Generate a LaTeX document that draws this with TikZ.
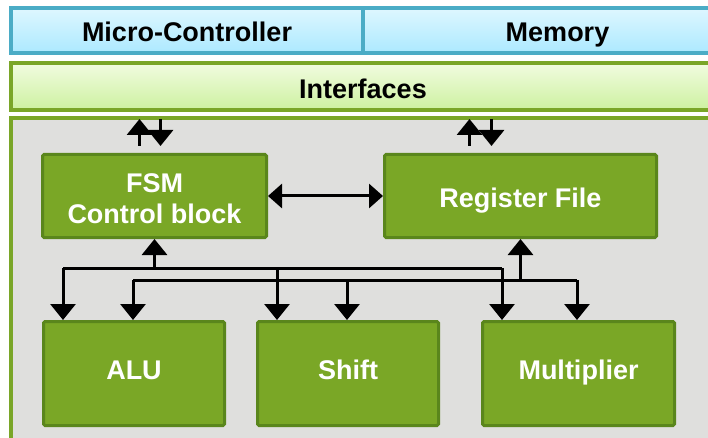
\documentclass[tikz,border=0pt]{standalone}
\usepackage{fontspec}
\setmainfont{Liberation Sans}
\usetikzlibrary{arrows.meta}

\definecolor{cyanedge}{RGB}{75,172,198}
\definecolor{cyantop}{RGB}{222,247,255}
\definecolor{cyanbot}{RGB}{172,233,255}
\definecolor{limeedge}{RGB}{122,166,40}
\definecolor{limetop}{RGB}{241,252,224}
\definecolor{limebot}{RGB}{205,241,160}
\definecolor{panelgrey}{RGB}{223,223,221}
\definecolor{unitfill}{RGB}{122,167,38}
\definecolor{unitedge}{RGB}{90,134,28}

\begin{document}
\begin{tikzpicture}[x=1pt,y=-1pt,
  labelfont/.style={font=\fontsize{27}{31}\selectfont\bfseries},
  % caps are centred in the text box; extra height lowers them, depth raises them
  capsat/.style 2 args={text height=#1, text depth=#2},
  topbar/.style={draw=cyanedge, line width=3.5pt, top color=cyantop, bottom color=cyanbot,
                 labelfont, text=black, inner sep=0pt, capsat={22.3pt}{0pt}},
  ifbar/.style={draw=limeedge, line width=3.5pt, top color=limetop, bottom color=limebot,
                labelfont, text=black, inner sep=0pt, capsat={24.3pt}{0pt}},
  panel/.style={draw=limeedge, line width=3.5pt, fill=panelgrey, inner sep=0pt},
  unit/.style={draw=unitedge, fill=unitfill, line width=3pt, rounded corners=1.5pt,
               text=white, labelfont, align=center, inner sep=0pt},
  bus/.style={draw=black, line width=3pt},
  tipend/.style={bus, -{Triangle[width=25pt,length=16pt]}},
  tipboth/.style={bus, {Triangle[width=24pt,length=14pt]}-{Triangle[width=24pt,length=14pt]}}
]
\path[use as bounding box] (0,0) rectangle (708,438);
\clip (0,0) rectangle (708,438);
\fill[white] (0,0) rectangle (708,438);

% layer bars
\node[topbar, minimum width=352pt, minimum height=45pt] (mc) at (187,30.5) {Micro-Controller};
\node[topbar, minimum width=389pt, minimum height=45pt] (mem) at (557.5,30.5) {Memory};
\node[ifbar, minimum width=704pt, minimum height=47pt] (ifc) at (363,86.5) {Interfaces};
\node[panel, minimum width=729pt, minimum height=352pt] (core) at (375.5,294) {};

% functional units (two-line label: the box height counts from the last baseline)
\node[unit, capsat={55.3pt}{0pt}, minimum width=224pt, minimum height=83pt] (fsm) at (154.5,196) {FSM\\Control block};
\node[unit, capsat={23.3pt}{0pt}, minimum width=272pt, minimum height=83pt] (reg) at (520.5,196) {Register File};
\node[unit, capsat={19.3pt}{7pt}, minimum width=181pt, minimum height=104pt] (alu) at (134,373.5) {ALU};
\node[unit, capsat={19.3pt}{7pt}, minimum width=181pt, minimum height=104pt] (shift) at (348,373.5) {Shift};
\node[unit, capsat={19.3pt}{7pt}, minimum width=192pt, minimum height=104pt] (mult) at (578.5,373.5) {Multiplier};

% ports to the interface layer
\coordinate (p1up) at (139.5,146);  \coordinate (p1upt) at (139.5,119);
\coordinate (p1dn) at (160.5,119);  \coordinate (p1dnt) at (160.5,146);
\coordinate (p2up) at (469.5,146);  \coordinate (p2upt) at (469.5,119);
\coordinate (p2dn) at (491.5,119);  \coordinate (p2dnt) at (491.5,146);
\draw[tipend] (p1up) -- (p1upt);
\draw[tipend] (p1dn) -- (p1dnt);
\draw[tipend] (p2up) -- (p2upt);
\draw[tipend] (p2dn) -- (p2dnt);

% FSM <-> register file
\draw[tipboth] (fsm.east) -- (reg.west);

% bus corners
\coordinate (b1l) at (63,268);
\coordinate (b1r) at (502,268);
\coordinate (b2l) at (133,280);
\coordinate (b2r) at (577,280);

% control bus (from FSM)
\draw[bus] (b1l) -- (b1r);
\draw[tipend] (b1l) -- (alu.north -| b1l);
\draw[tipend] (b1r) -- (mult.north -| b1r);
\draw[tipend] (b1l -| 277,0) -- (shift.north -| 277,0);
\draw[tipend] (fsm.south |- b1l) -- (fsm.south);

% data bus (from register file)
\draw[bus] (b2l) -- (b2r);
\draw[tipend] (b2l) -- (alu.north -| b2l);
\draw[tipend] (b2r) -- (mult.north -| b2r);
\draw[tipend] (b2l -| 347,0) -- (shift.north -| 347,0);
\draw[tipend] (reg.south |- b2l) -- (reg.south);
\end{tikzpicture}
\end{document}
